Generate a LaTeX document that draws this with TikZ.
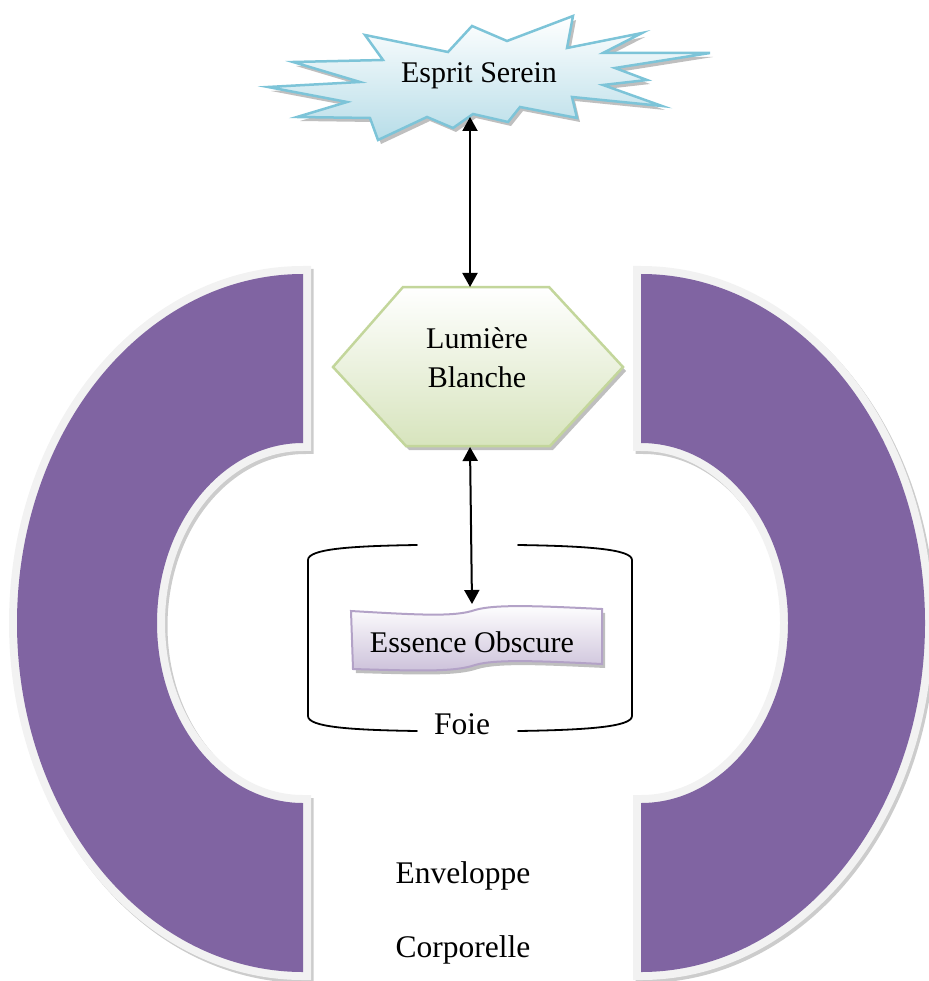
\documentclass[tikz,border=0pt]{standalone}
\usepackage{fontspec}
\setmainfont{Liberation Serif}
\usetikzlibrary{arrows.meta}
\definecolor{ringpurple}{RGB}{128,100,162}
\definecolor{ringedge}{RGB}{242,242,242}
\definecolor{skyline}{RGB}{125,196,216}
\definecolor{skyfill}{RGB}{183,221,232}
\definecolor{leafline}{RGB}{195,214,155}
\definecolor{leaffill}{RGB}{215,228,189}
\definecolor{lilacline}{RGB}{179,162,199}
\definecolor{lilacfill}{RGB}{204,193,218}

\begin{document}
\begin{tikzpicture}[x=1pt, y=-1pt,
    lbl/.style={font=\fontsize{30}{39}\selectfont, inner sep=0pt, anchor=base},
    biglbl/.style={lbl, font=\fontsize{31.5}{38}\selectfont},
    link/.style={{Triangle[length=14pt,width=15pt]}-{Triangle[length=14pt,width=15pt]}, line width=2pt},
    shadowfill/.style={preaction={fill=gray!50, transform canvas={shift={(3pt,-4pt)}}}},
    ring/.style={fill=ringpurple,
        preaction={draw=gray!40, line width=16pt, transform canvas={shift={(2.5pt,-3pt)}}},
        preaction={draw=ringedge, line width=16pt}},
    bracket/.style={line width=1.8pt, line cap=round}]
    \useasboundingbox (0,0) rectangle (928,981);

    % body envelope, left half
    \path[ring] (303,274) arc[start angle=90, end angle=270, x radius=286pt, y radius=349pt]
        -- (303,803) arc[start angle=270, end angle=90, x radius=146pt, y radius=180pt] -- cycle;

    % body envelope, right half
    \path[ring] (641,274) arc[start angle=90, end angle=-90, x radius=284pt, y radius=349pt]
        -- (641,803) arc[start angle=-90, end angle=90, x radius=147pt, y radius=180pt] -- cycle;

    % serene mind (burst)
    \draw[shadowfill, draw=skyline, line width=2.5pt, top color=white, bottom color=skyfill]
        (365,35) -- (448,52) -- (472,26) -- (507,41) -- (573,16) -- (567,48) -- (642,33)
        -- (603,53) -- (710,53) -- (615,68) -- (647,80) -- (603,85) -- (662,106) -- (572,97)
        -- (577,118) -- (520,107) -- (508,122) -- (473,114) -- (453,128) -- (427,117)
        -- (378,140) -- (370,118) -- (297,117) -- (347,102) -- (268,87) -- (360,82)
        -- (293,62) -- (383,60) -- cycle;
    \node[lbl] (esprit) at (479,83) {Esprit Serein};

    % white light (hexagon)
    \draw[shadowfill, draw=leafline, line width=2.5pt, top color=white, bottom color=leaffill]
        (403,287) -- (549,287) -- (623,367) -- (550,446) -- (406,446) -- (333,367) -- cycle;
    \node[lbl, align=center] (lumiere) at (477,387) {Lumière\\Blanche};

    % liver brackets
    \draw[bracket] (417,545) .. controls (350,546) and (308,549) .. (308,560) -- (308,716)
        .. controls (308,727) and (350,730) .. (417,731);
    \draw[bracket] (518,545) .. controls (585,546) and (632,549) .. (632,560) -- (632,716)
        .. controls (632,727) and (585,730) .. (518,731);
    \node[biglbl] (foie) at (462,734) {Foie};

    % dark essence (wave)
    \draw[shadowfill, draw=lilacline, line width=2pt, top color=white, bottom color=lilacfill]
        (351,611) .. controls (420,615) and (455,617) .. (475,610)
        .. controls (495,604) and (540,606) .. (602,609) -- (602,664)
        .. controls (540,661) and (495,659) .. (475,665)
        .. controls (455,672) and (420,671) .. (353,669) -- cycle;
    \node[lbl] (essence) at (472,652) {Essence Obscure};

    % arrow ends
    \coordinate (starbot) at (470,117);
    \coordinate (hextop) at (470,287);
    \coordinate (hexbot) at (470,447);
    \coordinate (wavetop) at (472,604);

    \draw[link] (starbot) -- (hextop);
    \draw[link] (hexbot) -- (wavetop);

    % caption
    \node[biglbl] (enveloppe) at (463,883) {Enveloppe};
    \node[biglbl] (corporelle) at (463,957) {Corporelle};
\end{tikzpicture}
\end{document}
